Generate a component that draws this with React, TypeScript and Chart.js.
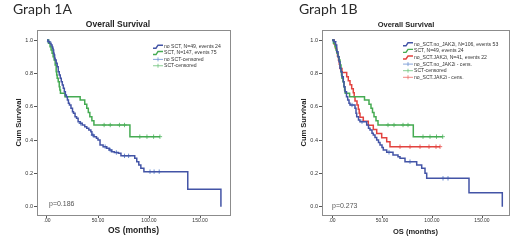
import React, { useEffect, useRef } from 'react';
import { Chart, registerables } from 'chart.js';

Chart.register(...registerables);

const FONT = '"Liberation Sans", Arial, Helvetica, sans-serif';

// Axis ticks
const xTicks = [0, 50, 100, 150];
const yTicks = [0, 0.2, 0.4, 0.6, 0.8, 1.0];

// ---------- Graph 1A ----------
const aNoSctT = [0, 1, 2.5, 4, 5, 5.5, 6, 6.5, 7, 7.5, 8, 9, 10, 11, 12, 13, 14, 15, 16, 17, 18, 19, 20, 21, 22, 23.5, 25, 26, 27.5, 29, 30.5, 32.5, 34.5, 37, 39, 41, 43, 44, 46, 48.5, 50, 52, 55, 58.5, 61, 63.5, 66, 70, 72.5, 86, 88, 90, 92, 95, 138, 170.5];
const aNoSctS = [1.0, 0.99, 0.98, 0.97, 0.96, 0.95, 0.94, 0.92, 0.91, 0.89, 0.88, 0.86, 0.84, 0.81, 0.79, 0.77, 0.75, 0.73, 0.71, 0.69, 0.67, 0.66, 0.64, 0.62, 0.61, 0.59, 0.57, 0.56, 0.54, 0.53, 0.51, 0.50, 0.49, 0.48, 0.47, 0.46, 0.45, 0.43, 0.42, 0.41, 0.40, 0.37, 0.36, 0.35, 0.34, 0.33, 0.325, 0.32, 0.305, 0.29, 0.27, 0.25, 0.23, 0.21, 0.105, 0.0];
const aNoSctCensT = [2, 33, 45, 57, 62, 68, 76, 80, 101, 105, 110];
const aNoSctCensS = [0.99, 0.50, 0.43, 0.36, 0.34, 0.325, 0.305, 0.305, 0.21, 0.21, 0.21];

// SCT group (same in 1A and 1B)
const sctT = [0, 1.5, 3, 4, 5, 6, 7, 8, 9, 9.5, 10, 11, 12, 12.6, 13.2, 17.6, 32.5, 37, 39, 40.5, 42, 44, 46, 81.3, 110.7];
const sctS = [1.0, 0.98, 0.96, 0.94, 0.92, 0.90, 0.88, 0.85, 0.81, 0.79, 0.77, 0.75, 0.72, 0.70, 0.68, 0.66, 0.64, 0.615, 0.59, 0.565, 0.54, 0.515, 0.49, 0.42, 0.42];
const sctCensT = [56, 62, 71, 76, 91, 98, 104.5, 110.7];
const sctCensS = [0.49, 0.49, 0.49, 0.49, 0.42, 0.42, 0.42, 0.42];

// ---------- Graph 1B ----------
const bNoJakT = [0, 2, 3.5, 4.7, 6, 7, 8, 9, 10, 11.3, 12, 13, 14.5, 15.7, 17, 18, 23, 24, 24.7, 26.5, 28, 34.7, 36.5, 38, 40, 41.3, 43, 44.7, 46.5, 48, 50, 51.3, 54.7, 61, 66, 68, 73, 84.7, 89.7, 93, 94.7, 137, 170.3];
const bNoJakS = [1.0, 0.99, 0.97, 0.93, 0.90, 0.87, 0.83, 0.81, 0.78, 0.75, 0.72, 0.69, 0.66, 0.64, 0.62, 0.61, 0.59, 0.56, 0.54, 0.52, 0.51, 0.49, 0.47, 0.46, 0.44, 0.43, 0.415, 0.40, 0.385, 0.37, 0.355, 0.34, 0.326, 0.31, 0.30, 0.29, 0.27, 0.25, 0.23, 0.20, 0.17, 0.084, 0.0];
const bNoJakCensT = [2.5, 20, 30, 57, 78, 111, 116];
const bNoJakCensS = [0.99, 0.61, 0.51, 0.326, 0.27, 0.17, 0.17];

const bJakT = [0, 2, 3.5, 4.7, 5.5, 6.5, 7.3, 8, 10, 14.7, 16.3, 18, 19.7, 21.3, 22.2, 23, 25, 26.3, 27.2, 28, 31.3, 36.3, 41.3, 44.7, 49.7, 54.7, 58, 108];
const bJakS = [1.0, 0.976, 0.951, 0.927, 0.902, 0.878, 0.854, 0.829, 0.805, 0.78, 0.756, 0.732, 0.707, 0.683, 0.659, 0.634, 0.61, 0.585, 0.561, 0.537, 0.512, 0.488, 0.463, 0.439, 0.414, 0.39, 0.36, 0.36];
const bJakCensT = [68, 78, 88, 97, 104, 108];
const bJakCensS = [0.36, 0.36, 0.36, 0.36, 0.36, 0.36];

// Labels
const aLegend = ['no SCT, N=49, events 24', 'SCT, N=147, events 75', 'no SCT-censored', 'SCT-censored'];
const bLegend = ['no_SCT.no_JAK2i, N=106, events 53', 'SCT, N=49, events 24', 'no_SCT.JAK2i, N=41, events 22', 'no_SCT.no_JAK2i - cens.', 'SCT-censored', 'no_SCT.JAK2i - cens.'];

const BLUE = '#4354a6';
const GREEN = '#45ab52';
const RED = '#e2433f';
const BLUE_C = '#6a8fd0';
const GREEN_C = '#6cc27a';
const RED_C = '#ec6a66';

const zip = (t: number[], s: number[]) => t.map((x, i) => ({ x, y: s[i] }));

const lineDs = (label: string, t: number[], s: number[], color: string) => ({
  label,
  data: zip(t, s),
  borderColor: color,
  backgroundColor: color,
  borderWidth: 1.5,
  pointRadius: 0,
  stepped: true,
  fill: false,
  tension: 0,
});

const censDs = (label: string, t: number[], s: number[], color: string) => ({
  label,
  data: zip(t, s),
  borderColor: color,
  backgroundColor: color,
  showLine: false,
  pointStyle: 'cross',
  pointRadius: 2.2,
  borderWidth: 1,
});

type LegendItem = { label: string; color: string; kind: 'line' | 'cens' };

type Spec = {
  datasets: any[];
  xMin: number;
  xMax: number;
  padRight: number;
  title: string;
  titleX: number;
  titleSize: number;
  xTitleSize: number;
  legend: LegendItem[];
  legendX: number;
  legendY: number;
  legendGap: number;
  pText: string;
  pX: number;
  pY: number;
};

function makePlugin(spec: Spec) {
  return {
    id: 'kmDecor',
    beforeDatasetsDraw(chart: any) {
      const { ctx, chartArea: a } = chart;
      ctx.save();
      ctx.strokeStyle = '#8c8c8c';
      ctx.lineWidth = 1;
      ctx.strokeRect(Math.round(a.left) + 0.5, Math.round(a.top) + 0.5, Math.round(a.right - a.left), Math.round(a.bottom - a.top));
      ctx.restore();
    },
    afterDraw(chart: any) {
      const { ctx } = chart;
      ctx.save();
      // title
      ctx.fillStyle = '#1e1e1e';
      ctx.font = `bold ${spec.titleSize}px ${FONT}`;
      ctx.textAlign = 'center';
      ctx.textBaseline = 'middle';
      ctx.fillText(spec.title, spec.titleX, 24.5);
      // p value
      ctx.fillStyle = '#555';
      ctx.font = `7px ${FONT}`;
      ctx.textAlign = 'left';
      ctx.fillText(spec.pText, spec.pX, spec.pY);
      // legend
      ctx.font = `5.1px ${FONT}`;
      spec.legend.forEach((it, i) => {
        const y = spec.legendY + i * spec.legendGap;
        const x0 = spec.legendX;
        ctx.strokeStyle = it.color;
        if (it.kind === 'line') {
          ctx.lineWidth = 1.4;
          ctx.beginPath();
          ctx.moveTo(x0, y + 1.5);
          ctx.lineTo(x0 + 3, y + 1.5);
          ctx.lineTo(x0 + 5, y - 1.5);
          ctx.lineTo(x0 + 10, y - 1.5);
          ctx.stroke();
        } else {
          ctx.lineWidth = 0.8;
          ctx.beginPath();
          ctx.moveTo(x0, y);
          ctx.lineTo(x0 + 10, y);
          ctx.moveTo(x0 + 5, y - 2);
          ctx.lineTo(x0 + 5, y + 2);
          ctx.stroke();
        }
        ctx.fillStyle = '#333';
        ctx.textAlign = 'left';
        ctx.textBaseline = 'middle';
        ctx.fillText(it.label, x0 + 11, y);
      });
      ctx.restore();
    },
  };
}

function KMChart({ spec, width, left }: { spec: Spec; width: number; left: number }) {
  const ref = useRef<HTMLCanvasElement | null>(null);
  useEffect(() => {
    if (!ref.current) return;
    const chart = new Chart(ref.current, {
      type: 'line',
      data: { datasets: spec.datasets },
      options: {
        responsive: false,
        animation: false,
        events: [],
        layout: { padding: { top: 30, right: spec.padRight, left: 0, bottom: 0 } },
        plugins: { legend: { display: false }, tooltip: { enabled: false }, title: { display: false } },
        scales: {
          x: {
            type: 'linear',
            min: spec.xMin,
            max: spec.xMax,
            afterBuildTicks: (s: any) => {
              s.ticks = xTicks.map((v) => ({ value: v }));
            },
            afterFit: (s: any) => {
              s.height = 25;
            },
            ticks: {
              autoSkip: false,
              maxRotation: 0,
              padding: 0,
              color: '#333',
              font: { size: 5, family: FONT },
              callback: (v: any) => (Number(v) === 0 ? '.00' : Number(v).toFixed(2)),
            },
            grid: { drawOnChartArea: false, tickLength: 3, color: '#555' },
            border: { display: false },
            title: {
              display: true,
              text: 'OS (months)',
              color: '#1e1e1e',
              font: { size: spec.xTitleSize, weight: 'bold', family: FONT },
              padding: { top: 0, bottom: 4 },
            },
          },
          y: {
            type: 'linear',
            min: -0.05,
            max: 1.06,
            afterBuildTicks: (s: any) => {
              s.ticks = yTicks.map((v) => ({ value: v }));
            },
            afterFit: (s: any) => {
              s.width = 37;
            },
            ticks: {
              autoSkip: false,
              padding: 1,
              color: '#333',
              font: { size: 5.5, family: FONT },
              callback: (v: any) => Number(v).toFixed(1),
            },
            grid: { drawOnChartArea: false, tickLength: 3, color: '#555' },
            border: { display: false },
            title: {
              display: true,
              text: 'Cum Survival',
              color: '#1e1e1e',
              font: { size: 7.5, weight: 'bold', family: FONT },
              padding: { top: 14.5, bottom: 0 },
            },
          },
        },
      },
      plugins: [makePlugin(spec)],
    } as any);
    return () => chart.destroy();
  }, [spec]);
  return (
    <canvas
      ref={ref}
      width={width}
      height={240}
      style={{ position: 'absolute', left, top: 0, width, height: 240, display: 'block' }}
    />
  );
}

const specA: Spec = {
  datasets: [
    lineDs(aLegend[0], aNoSctT, aNoSctS, BLUE),
    lineDs(aLegend[1], sctT, sctS, GREEN),
    censDs(aLegend[2], aNoSctCensT, aNoSctCensS, BLUE_C),
    censDs(aLegend[3], sctCensT, sctCensS, GREEN_C),
  ],
  xMin: -9.8,
  xMax: 179.4,
  padRight: 30,
  title: 'Overall Survival',
  titleX: 118,
  titleSize: 8.5,
  xTitleSize: 8.5,
  legend: [
    { label: aLegend[0], color: BLUE, kind: 'line' },
    { label: aLegend[1], color: GREEN, kind: 'line' },
    { label: aLegend[2], color: BLUE_C, kind: 'cens' },
    { label: aLegend[3], color: GREEN_C, kind: 'cens' },
  ],
  legendX: 153,
  legendY: 46.7,
  legendGap: 6.35,
  pText: 'p=0.186',
  pX: 49,
  pY: 204.5,
};

const specB: Spec = {
  datasets: [
    lineDs(bLegend[0], bNoJakT, bNoJakS, BLUE),
    lineDs(bLegend[1], sctT, sctS, GREEN),
    lineDs(bLegend[2], bJakT, bJakS, RED),
    censDs(bLegend[3], bNoJakCensT, bNoJakCensS, BLUE_C),
    censDs(bLegend[4], sctCensT, sctCensS, GREEN_C),
    censDs(bLegend[5], bJakCensT, bJakCensS, RED_C),
  ],
  xMin: -10,
  xMax: 177,
  padRight: 11,
  title: 'Overall Survival',
  titleX: 121,
  titleSize: 7.5,
  xTitleSize: 7.5,
  legend: [
    { label: bLegend[0], color: BLUE, kind: 'line' },
    { label: bLegend[1], color: GREEN, kind: 'line' },
    { label: bLegend[2], color: RED, kind: 'line' },
    { label: bLegend[3], color: BLUE_C, kind: 'cens' },
    { label: bLegend[4], color: GREEN_C, kind: 'cens' },
    { label: bLegend[5], color: RED_C, kind: 'cens' },
  ],
  legendX: 118,
  legendY: 44.3,
  legendGap: 6.6,
  pText: 'p=0.273',
  pX: 47,
  pY: 206,
};

const headStyle: React.CSSProperties = {
  position: 'absolute',
  top: 0,
  fontFamily: 'Lato, "Open Sans", sans-serif',
  fontSize: 14,
  color: '#2a2a2a',
  whiteSpace: 'nowrap',
};

export default function App() {
  return (
    <div style={{ position: 'fixed', left: 0, top: 0, width: 520, height: 240, background: '#fff', overflow: 'hidden' }}>
      <KMChart spec={specA} width={260} left={0} />
      <KMChart spec={specB} width={235} left={285} />
      <div style={{ ...headStyle, left: 13 }}>Graph 1A</div>
      <div style={{ ...headStyle, left: 299 }}>Graph 1B</div>
    </div>
  );
}
